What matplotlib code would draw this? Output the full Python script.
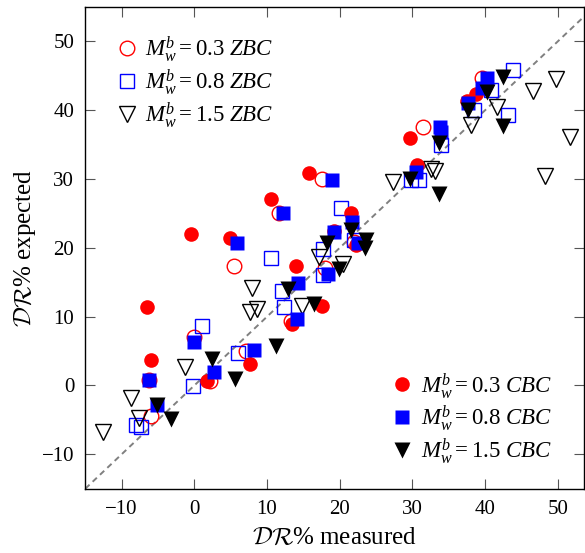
import numpy as np
import matplotlib
matplotlib.use('Agg')
import matplotlib.pyplot as plt

plt.rcParams['font.family'] = ['Liberation Serif', 'DejaVu Serif']
plt.rcParams['mathtext.fontset'] = 'custom'
plt.rcParams['mathtext.rm'] = 'Liberation Serif'
plt.rcParams['mathtext.it'] = 'Liberation Serif:italic'
plt.rcParams['mathtext.cal'] = 'cmsy10'

# ZBC (open markers): measured vs expected
zbc03_x = [-6.2, -5.9, -0.1, 2.2, 7.1, 13.3, 18.0, 5.5, 11.7, 17.6, 22.0, 31.5, 39.6]
zbc03_y = [0.8, -4.5, 7.0, 0.7, 5.0, 9.4, 17.0, 17.4, 25.0, 30.0, 20.8, 37.5, 44.7]

zbc08_x = [-8.0, -7.3, -0.2, 1.1, 6.0, 10.6, 12.1, 12.3, 17.7, 17.7, 20.2, 21.9,
           29.8, 30.9, 33.9, 38.5, 40.8, 43.2, 43.8]
zbc08_y = [-5.8, -6.1, -0.1, 8.7, 4.7, 18.5, 13.7, 11.4, 16.1, 19.9, 25.8, 21.1,
           29.9, 29.9, 34.9, 40.0, 42.9, 39.3, 45.8]

zbc15_x = [-12.6, -8.7, -7.6, -1.3, 8.0, 7.7, 8.6, 14.8, 17.2, 20.5, 27.4, 32.6,
           33.1, 38.0, 41.6, 46.6, 49.8, 51.7, 48.3]
zbc15_y = [-6.7, -1.8, -4.7, 2.7, 14.1, 10.7, 11.1, 11.5, 18.6, 17.6, 29.5, 31.5,
           31.2, 37.9, 40.5, 42.8, 44.6, 36.1, 30.5]

# CBC (filled markers)
cbc03_x = [-6.5, -6.0, 1.8, 7.6, 13.5, 14.0, 17.5, -0.5, 4.9, 10.6, 15.8, 19.2,
           21.6, 22.2, 29.7, 30.6, 37.5, 38.7]
cbc03_y = [11.4, 3.7, 0.6, 3.1, 9.0, 17.3, 11.6, 22.0, 21.5, 27.1, 30.9, 22.4,
           25.0, 20.4, 36.0, 32.0, 41.3, 42.3]

cbc08_x = [-6.2, -5.2, 0.0, 2.75, 8.2, 14.1, 14.2, 18.4, 5.9, 12.2, 18.9, 19.2,
           21.7, 22.5, 30.5, 33.8, 34.0, 37.6, 39.6, 40.3]
cbc08_y = [0.8, -2.9, 6.3, 1.9, 5.2, 9.7, 14.95, 16.2, 20.7, 25.0, 29.9, 22.3,
           23.8, 20.7, 31.0, 37.5, 36.9, 41.1, 43.2, 44.7]

cbc15_x = [-5.2, -3.2, 2.5, 5.6, 11.2, 12.9, 16.5, 19.9, 18.2, 21.5, 23.6, 23.5,
           29.7, 33.7, 33.7, 37.7, 40.3, 42.5, 42.5]
cbc15_y = [-2.8, -4.9, 3.9, 0.9, 5.8, 14.0, 11.8, 16.9, 20.7, 22.6, 21.1, 20.0,
           30.0, 35.3, 27.8, 40.0, 42.7, 44.8, 37.7]

fig = plt.figure(figsize=(5.85, 5.53), dpi=100)
ax = fig.add_axes([0.1458, 0.1163, 0.853, 0.871])

ax.plot([-15, 60], [-15, 60], color='gray', lw=1.4, dashes=(3, 2.2), zorder=1)

ms = 10.5
h1 = ax.plot(zbc03_x, zbc03_y, 'o', ms=ms, mfc='none', mec='red', mew=1.0,
             label=r'$M_w^b = 0.3\ ZBC$', zorder=2)[0]
h2 = ax.plot(zbc08_x, zbc08_y, 's', ms=ms, mfc='none', mec='blue', mew=1.0,
             label=r'$M_w^b = 0.8\ ZBC$', zorder=2)[0]
h3 = ax.plot(zbc15_x, zbc15_y, 'v', ms=ms + 1, mfc='none', mec='black', mew=1.0,
             label=r'$M_w^b = 1.5\ ZBC$', zorder=2)[0]
h4 = ax.plot(cbc03_x, cbc03_y, 'o', ms=ms, color='red', mec='none',
             label=r'$M_w^b = 0.3\ CBC$', zorder=3)[0]
h5 = ax.plot(cbc08_x, cbc08_y, 's', ms=ms, color='blue', mec='none',
             label=r'$M_w^b = 0.8\ CBC$', zorder=3)[0]
h6 = ax.plot(cbc15_x, cbc15_y, 'v', ms=ms + 1, color='black', mec='none',
             label=r'$M_w^b = 1.5\ CBC$', zorder=3)[0]

leg1 = ax.legend(handles=[h1, h2, h3], loc='upper left', frameon=False,
                 fontsize=16.5, handlelength=1.0, handletextpad=0.3,
                 labelspacing=0.12, borderaxespad=0,
                 bbox_to_anchor=(0.042, 0.962))
ax.add_artist(leg1)
ax.legend(handles=[h4, h5, h6], loc='lower right', frameon=False,
          fontsize=16.5, handlelength=1.0, handletextpad=0.3,
          labelspacing=0.12, borderaxespad=0,
          bbox_to_anchor=(0.953, 0.028))

ax.set_xlim(-15, 53.65)
ax.set_ylim(-15, 55)
ax.set_xticks([-10, 0, 10, 20, 30, 40, 50])
ax.set_yticks([-10, 0, 10, 20, 30, 40, 50])
ax.tick_params(direction='in', length=7, width=0.8, color='#555555',
               labelsize=15, top=True, right=True, pad=8)
for s in ax.spines.values():
    s.set_linewidth(1.0)

ax.set_xlabel(r'$\mathcal{DR}$% measured', fontsize=18, labelpad=6)
ax.set_ylabel(r'$\mathcal{DR}$% expected', fontsize=18, labelpad=3)

plt.savefig('out.png', dpi=100)
